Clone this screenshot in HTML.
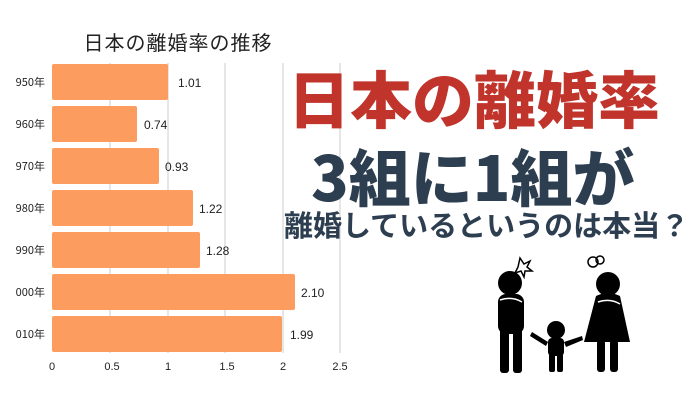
<!DOCTYPE html>
<html><head><meta charset="utf-8"><style>
body{margin:0;width:700px;height:400px;background:#fff;overflow:hidden;position:relative;font-family:"Liberation Sans","Noto Sans CJK JP",sans-serif}
.t{position:absolute;white-space:nowrap;font-family:"Noto Sans CJK JP",sans-serif}
</style></head><body>
<svg width="700" height="400" style="position:absolute;left:0;top:0" font-family="Liberation Sans, Noto Sans CJK JP, sans-serif">
<defs><clipPath id="c"><rect x="13" y="0" width="100" height="400"/></clipPath></defs>
<text x="178" y="50" font-size="20" text-anchor="middle" fill="#222" font-family="Noto Sans CJK JP, sans-serif" letter-spacing="1">日本の離婚率の推移</text>
<g stroke="#ccc" stroke-width="1">
<line x1="110" y1="63" x2="110" y2="353"/><line x1="168" y1="63" x2="168" y2="353"/><line x1="225" y1="63" x2="225" y2="353"/><line x1="283" y1="63" x2="283" y2="353"/><line x1="340" y1="63" x2="340" y2="353"/>
</g>
<g fill="#fd9c5f">
<rect x="52" y="64" width="116" height="36" rx="2"/>
<rect x="52" y="106" width="85" height="36" rx="2"/>
<rect x="52" y="148" width="107" height="36" rx="2"/>
<rect x="52" y="190" width="141" height="36" rx="2"/>
<rect x="52" y="232" width="148" height="36" rx="2"/>
<rect x="52" y="274" width="243" height="36" rx="2"/>
<rect x="52" y="316" width="230" height="36" rx="2"/>
</g>
<g font-size="12" fill="#222">
<text x="178" y="87">1.01</text><text x="144" y="129">0.74</text><text x="165" y="171">0.93</text>
<text x="199" y="213">1.22</text><text x="206" y="255">1.28</text><text x="301" y="297">2.10</text><text x="290" y="339">1.99</text>
</g>
<g font-size="11" fill="#222" text-anchor="end" font-family="Noto Sans CJK JP, sans-serif" clip-path="url(#c)">
<text x="45" y="86">950年</text><text x="45" y="128">960年</text><text x="45" y="170">970年</text><text x="45" y="212">980年</text><text x="45" y="254">990年</text><text x="45" y="296">000年</text><text x="45" y="338">010年</text>
</g>
<g font-size="11" fill="#222" text-anchor="middle">
<text x="52" y="370">0</text><text x="112" y="370">0.5</text><text x="168" y="370">1</text><text x="227" y="370">1.5</text><text x="283" y="370">2</text><text x="340" y="370">2.5</text>
</g>
<g fill="#000">
<circle cx="510" cy="283" r="12"/>
<rect x="498" y="294" width="26" height="40" rx="8"/>
<rect x="500" y="325" width="9" height="48" rx="3"/><rect x="513" y="325" width="9" height="48" rx="3"/>
<circle cx="608" cy="284" r="12"/>
<path d="M596 296 Q608 290 620 296 L630 342 L584 342 Z"/>
<rect x="597" y="340" width="8" height="32" rx="3"/><rect x="610" y="340" width="8" height="32" rx="3"/>
<circle cx="556" cy="330" r="9"/>
<rect x="548" y="338" width="16" height="18" rx="4"/>
<rect x="549" y="352" width="6" height="20" rx="2"/><rect x="557" y="352" width="6" height="20" rx="2"/>
<path d="M548 342 L532 332 L530 336 L546 346Z"/><path d="M564 342 L582 336 L583 340 L566 347Z"/>
</g>
<g stroke="#fff" stroke-width="1.5" fill="none">
<path d="M500 300 Q512 296 522 302"/><path d="M598 302 Q610 298 620 304"/>
</g>
<g stroke="#000" stroke-width="1.5" fill="none">
<path d="M520 258 l4 6 l6 -3 l-3 6 l5 4 l-7 0 l-1 6 l-3 -6 l-6 2 l3 -6z"/>
<circle cx="593" cy="262" r="5"/><circle cx="600" cy="260" r="4"/>
</g>
</svg>
<div class="t" style="left:288px;top:58px;font-size:62px;font-weight:900;color:#c0342b;line-height:76px">日本の離婚率</div>
<div class="t" style="left:311px;top:136px;font-size:62px;font-weight:900;color:#2c3e50;line-height:76px">3組に1組が</div>
<div class="t" style="left:284px;top:204px;font-size:29px;font-weight:700;color:#2c3e50;line-height:40px">離婚しているというのは本当？</div>
</body></html>
